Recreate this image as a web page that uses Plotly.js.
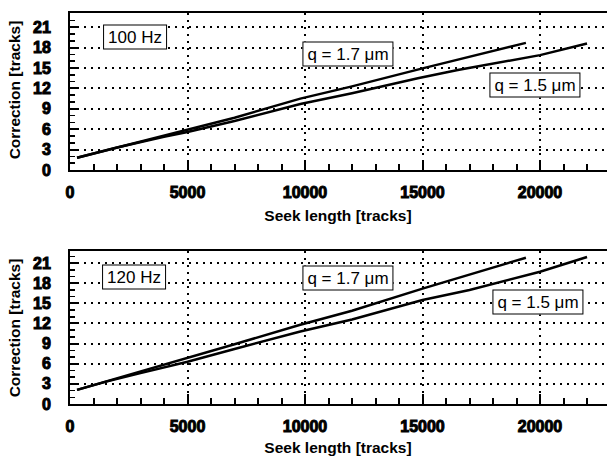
<!DOCTYPE html>
<html><head><meta charset="utf-8">
<script src="https://cdn.plot.ly/plotly-3.0.1.min.js"></script>
<style>
html,body{margin:0;padding:0;background:#fff;overflow:hidden}
#wrap{position:relative;width:607px;height:459px}
.pl{position:absolute;left:0;top:0;width:607px;height:459px}
.lbl{position:absolute;font-family:'Liberation Sans',Arial,sans-serif;color:#000;white-space:nowrap;transform:translate(-50%,-50%);z-index:5}
.ttl{font-size:15.5px;font-weight:bold}
.ytl{transform:translate(-50%,-50%) rotate(-90deg)}
.box{font-size:17px;background:#fff;border:1.5px solid #000;padding:2px 4px;line-height:19px}
.xtick,.ytick{stroke:#000 !important;stroke-opacity:1 !important}
</style>
</head><body>
<div id="wrap">
<div id="p1" class="pl"></div><div id="p2" class="pl"></div>
<div class="lbl ttl" style="left:338px;top:216px">Seek length [tracks]</div>
<div class="lbl ttl" style="left:338px;top:448px">Seek length [tracks]</div>
<div class="lbl ttl ytl" style="left:15px;top:90px">Correction [tracks]</div>
<div class="lbl ttl ytl" style="left:15px;top:328px">Correction [tracks]</div>
<div class="lbl box" style="left:135px;top:37px">100 Hz</div>
<div class="lbl box" style="left:348px;top:54px">q = 1.7 μm</div>
<div class="lbl box" style="left:535px;top:85px">q = 1.5 μm</div>
<div class="lbl box" style="left:134px;top:277px">120 Hz</div>
<div class="lbl box" style="left:348px;top:278px">q = 1.7 μm</div>
<div class="lbl box" style="left:538px;top:302px">q = 1.5 μm</div>
</div>
<script>
// 100 Hz
const x100_q17 = [300, 2000, 4000, 5000, 7000, 9800, 12000, 15000, 16500, 19400];
const y100_q17 = [1.8, 3.3, 5.0, 5.9, 7.7, 10.5, 12.3, 14.95, 16.2, 18.7];
const x100_q15 = [300, 2000, 4000, 5000, 7000, 9800, 12000, 14800, 16500, 20000, 22000];
const y100_q15 = [1.8, 3.3, 4.9, 5.6, 7.2, 9.7, 11.3, 13.5, 14.7, 16.9, 18.6];
// 120 Hz
const x120_q17 = [300, 1500, 3000, 5000, 7000, 9800, 12000, 15000, 17000, 19400];
const y120_q17 = [2.1, 3.3, 4.9, 6.8, 8.9, 11.8, 13.9, 17.2, 19.3, 21.8];
const x120_q15 = [300, 1500, 3000, 5000, 7000, 9800, 12000, 15000, 17000, 20000, 22000];
const y120_q15 = [2.1, 3.3, 4.6, 6.3, 8.2, 10.8, 12.6, 15.5, 17.0, 19.7, 21.9];
const xTickStep = 5000;
const yTickStep = 3;

const lineStyle = {color: '#000', width: 2.5};
const fam = 'Liberation Sans, Arial, sans-serif';
const tfnt = {family: fam, size: 16, color: '#000', weight: 'bold'};

function xax() {
  return {
    anchor: 'y', range: [0, 22850], tickmode: 'linear', tick0: 0, dtick: xTickStep, tickformat: 'd',
    showline: true, linewidth: 2, linecolor: '#000', mirror: true,
    ticks: 'inside', ticklen: 10, tickwidth: 2, tickcolor: '#000',
    minor: {dtick: 1000, tick0: 0, ticks: 'inside', ticklen: 6, tickwidth: 2, tickcolor: '#000', showgrid: false},
    showgrid: true, gridcolor: '#000', griddash: '2px,5px', gridwidth: 2,
    zeroline: false, tickfont: tfnt, automargin: false, ticklabelstandoff: 7
  };
}
function yax(domain, top) {
  return {
    anchor: 'x', domain: domain, range: [0, top], tickmode: 'linear', tick0: 0, dtick: yTickStep,
    showline: true, linewidth: 2, linecolor: '#000', mirror: false,
    ticks: 'inside', ticklen: 8, tickwidth: 2, tickcolor: '#000',
    minor: {dtick: 1, tick0: 0, ticks: 'inside', ticklen: 5, tickwidth: 1.5, tickcolor: '#000', showgrid: false},
    showgrid: true, gridcolor: '#000', griddash: '2px,5px', gridwidth: 2,
    zeroline: false, tickfont: tfnt, automargin: false, ticklabelstandoff: 14
  };
}
function lay(domain, top) {
  return {
    width: 607, height: 459, showlegend: false,
    margin: {l: 70, r: 0, t: 0, b: 0},
    paper_bgcolor: 'rgba(0,0,0,0)', plot_bgcolor: 'rgba(0,0,0,0)',
    xaxis: xax(), yaxis: yax(domain, top)
  };
}
Plotly.newPlot('p1', [
  {x: x100_q17, y: y100_q17, mode: 'lines', line: lineStyle},
  {x: x100_q15, y: y100_q15, mode: 'lines', line: lineStyle}
], lay([0.6296, 0.9717], 23.1), {staticPlot: true});
Plotly.newPlot('p2', [
  {x: x120_q17, y: y120_q17, mode: 'lines', line: lineStyle},
  {x: x120_q15, y: y120_q15, mode: 'lines', line: lineStyle}
], lay([0.1198, 0.4532], 22.8), {staticPlot: true});
</script></body></html>
